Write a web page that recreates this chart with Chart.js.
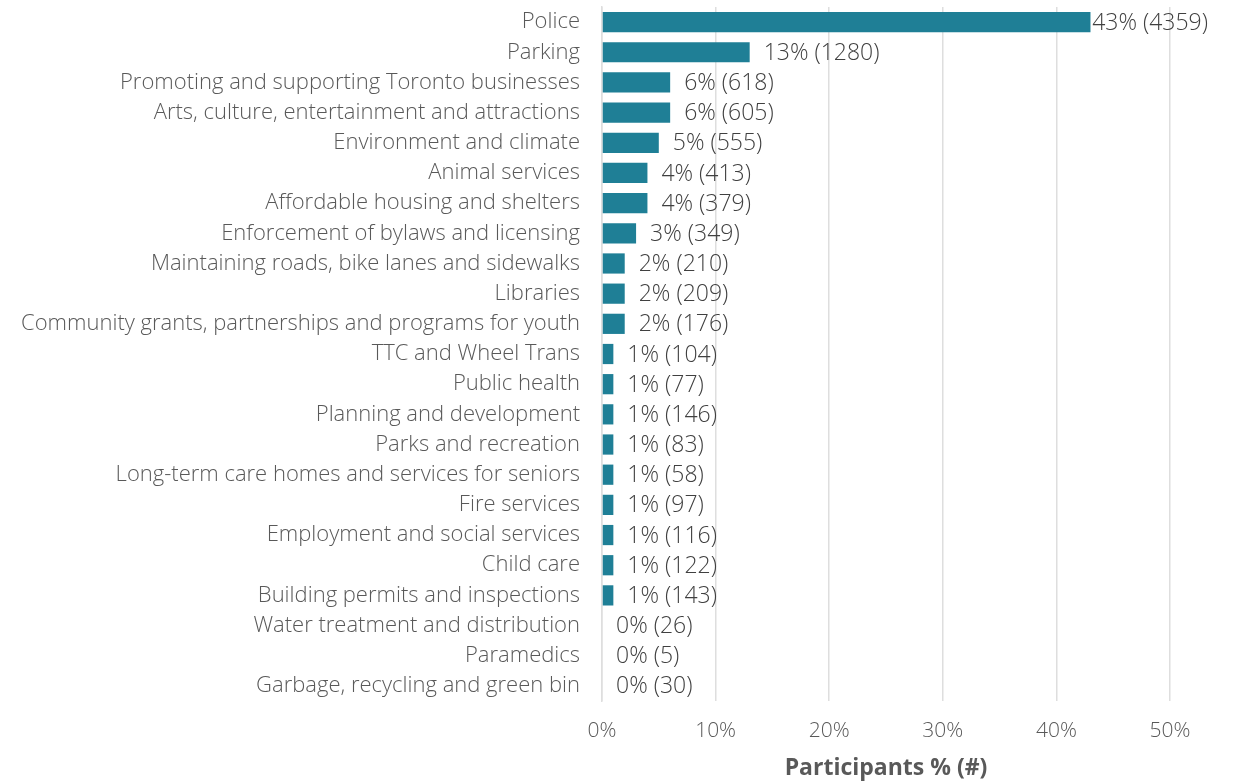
<!DOCTYPE html>
<html lang="en">
<head>
  <meta charset="UTF-8">
  <title>Participants by service</title>
  <script src="https://cdn.jsdelivr.net/npm/chart.js"></script>
  <style>
    body { margin: 0; background: #fff; }
    #wrap { width: 1235px; height: 782px; }
  </style>
</head>
<body>
  <div id="wrap"><canvas id="chart" width="1235" height="782"></canvas></div>
  <script>
    // categories, top to bottom
    const services = [
      'Police', 'Parking', 'Promoting and supporting Toronto businesses',
      'Arts, culture, entertainment and attractions', 'Environment and climate',
      'Animal services', 'Affordable housing and shelters',
      'Enforcement of bylaws and licensing', 'Maintaining roads, bike lanes and sidewalks',
      'Libraries', 'Community grants, partnerships and programs for youth',
      'TTC and Wheel Trans', 'Public health', 'Planning and development',
      'Parks and recreation', 'Long-term care homes and services for seniors',
      'Fire services', 'Employment and social services', 'Child care',
      'Building permits and inspections', 'Water treatment and distribution',
      'Paramedics', 'Garbage, recycling and green bin'
    ];
    // share of participants, % (rounded as shown)
    const percents = [43, 13, 6, 6, 5, 4, 4, 3, 2, 2, 2, 1, 1, 1, 1, 1, 1, 1, 1, 1, 0, 0, 0];
    // number of participants
    const counts = [4359, 1280, 618, 605, 555, 413, 379, 349, 210, 209, 176, 104, 77, 146, 83, 58, 97, 116, 122, 143, 26, 5, 30];
    const xTicks = [0, 10, 20, 30, 40, 50];

    const FONT = "'Open Sans', sans-serif";

    // draws "43% (4359)" after each bar
    const barLabels = {
      id: 'barLabels',
      afterDatasetsDraw(chart) {
        const ctx = chart.ctx;
        const meta = chart.getDatasetMeta(0);
        const limit = chart.chartArea.right + 38;
        ctx.save();
        ctx.font = '300 23px ' + FONT;
        ctx.fillStyle = '#404040';
        ctx.textBaseline = 'middle';
        meta.data.forEach((bar, i) => {
          const text = percents[i] + '% (' + counts[i] + ')';
          const w = ctx.measureText(text).width;
          let x = bar.x + 14;
          if (x + w > limit) x = limit - w;
          ctx.fillText(text, x, bar.y + 1);
        });
        ctx.restore();
      }
    };

    new Chart(document.getElementById('chart'), {
      type: 'bar',
      data: {
        labels: services,
        datasets: [{
          data: percents,
          backgroundColor: '#1f7f96',
          borderWidth: 0,
          categoryPercentage: 1,
          barPercentage: 0.67
        }]
      },
      options: {
        indexAxis: 'y',
        responsive: false,
        animation: false,
        layout: { padding: { top: 7, right: 65, bottom: 0, left: 0 } },
        plugins: {
          legend: { display: false },
          tooltip: { enabled: false }
        },
        scales: {
          x: {
            min: 0,
            max: 50,
            afterBuildTicks(scale) {
              scale.ticks = xTicks.map(v => ({ value: v }));
            },
            afterFit(scale) { scale.height = 81; },
            grid: { color: '#dedede', lineWidth: 1.5, drawTicks: false },
            border: { display: false },
            ticks: {
              padding: 17,
              color: '#595959',
              font: { family: FONT, size: 21, weight: '300' },
              callback: v => v + '%'
            },
            title: {
              display: true,
              text: 'Participants % (#)',
              color: '#595959',
              font: { family: FONT, size: 23, weight: 'bold' },
              padding: { top: 0, bottom: 0 }
            }
          },
          y: {
            afterFit(scale) {
              scale.width = 602;
              scale.paddingTop = 0;
              scale.paddingBottom = 0;
            },
            grid: { display: false, drawTicks: false },
            border: { display: true, color: '#dedede', width: 1.5 },
            ticks: {
              padding: 22,
              color: '#595959',
              autoSkip: false,
              font: { family: FONT, size: 22, weight: '300' }
            }
          }
        }
      },
      plugins: [barLabels]
    });
  </script>
</body>
</html>
